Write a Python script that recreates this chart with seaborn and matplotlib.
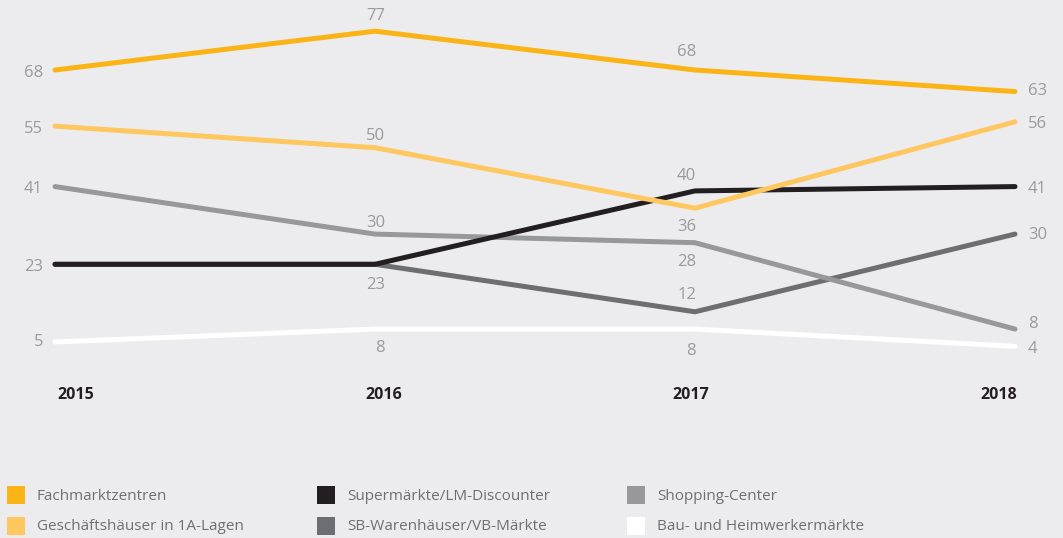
"""
Line chart: Einzelhandelsformate 2015-2018
"""

import matplotlib.pyplot as plt
import matplotlib.patches as mpatches
import seaborn as sns
import pandas as pd

# Data
years = [2015, 2016, 2017, 2018]
fachmarktzentren = [68, 77, 68, 63]
geschaeftshaeuser = [55, 50, 36, 56]
supermaerkte = [23, 23, 40, 41]
shopping_center = [41, 30, 28, 8]
sb_warenhaeuser = [23, 23, 12, 30]
baumaerkte = [5, 8, 8, 4]

series_names = ['Fachmarktzentren', 'Geschäftshäuser in 1A-Lagen', 'Supermärkte/LM-Discounter',
                'SB-Warenhäuser/VB-Märkte', 'Shopping-Center', 'Bau- und Heimwerkermärkte']
series_values = [fachmarktzentren, geschaeftshaeuser, supermaerkte,
                 sb_warenhaeuser, shopping_center, baumaerkte]

# Colors
bg = '#ececee'
palette = {
    'Fachmarktzentren': '#fbb415',
    'Geschäftshäuser in 1A-Lagen': '#fec760',
    'Supermärkte/LM-Discounter': '#231f20',
    'SB-Warenhäuser/VB-Märkte': '#6d6e71',
    'Shopping-Center': '#98989b',
    'Bau- und Heimwerkermärkte': '#ffffff',
}
label_color = '#9a9a9c'

# long-form table for seaborn
rows = []
for name, vals in zip(series_names, series_values):
    for y, v in zip(years, vals):
        rows.append({'Jahr': y, 'Wert': v, 'Format': name})
df = pd.DataFrame(rows)

sns.set_style("white", {'axes.facecolor': bg, 'figure.facecolor': bg})
plt.rcParams['font.family'] = ['Open Sans', 'DejaVu Sans']

fig = plt.figure(figsize=(10.63, 5.38), dpi=100)
ax = fig.add_axes([55 / 1063, 1 - 363.6 / 538, 960 / 1063, 345.4 / 538])

# drawing order: bottom to top
draw_order = ['Bau- und Heimwerkermärkte', 'SB-Warenhäuser/VB-Märkte', 'Shopping-Center',
              'Supermärkte/LM-Discounter', 'Geschäftshäuser in 1A-Lagen', 'Fachmarktzentren']
sns.lineplot(data=df, x='Jahr', y='Wert', hue='Format', hue_order=draw_order,
             palette=palette, linewidth=3.6, legend=False, ax=ax)
for line in ax.get_lines():
    line.set_solid_capstyle('round')
    line.set_solid_joinstyle('round')
    line.set_clip_on(False)

ax.set_xlim(2015, 2018)
ax.set_ylim(0, 80)
ax.axis('off')

# value labels: (series, year index, dx px, dy px, ha)
label_pos = [
    ('Fachmarktzentren', 0, -12, 0, 'right'),
    ('Geschäftshäuser in 1A-Lagen', 0, -12, 0, 'right'),
    ('Shopping-Center', 0, -12, 0, 'right'),
    ('SB-Warenhäuser/VB-Märkte', 0, -12, 0, 'right'),
    ('Bau- und Heimwerkermärkte', 0, -12, 3, 'right'),
    ('Fachmarktzentren', 1, 10, 18, 'right'),
    ('Geschäftshäuser in 1A-Lagen', 1, 10, 14, 'right'),
    ('Shopping-Center', 1, 10, 14, 'right'),
    ('SB-Warenhäuser/VB-Märkte', 1, 10, -18, 'right'),
    ('Bau- und Heimwerkermärkte', 1, 10, -16, 'right'),
    ('Fachmarktzentren', 2, 1, 21, 'right'),
    ('Supermärkte/LM-Discounter', 2, 1, 17, 'right'),
    ('Geschäftshäuser in 1A-Lagen', 2, 1, -16, 'right'),
    ('Shopping-Center', 2, 1, -17, 'right'),
    ('SB-Warenhäuser/VB-Märkte', 2, 1, 19, 'right'),
    ('Bau- und Heimwerkermärkte', 2, 1, -19, 'right'),
    ('Fachmarktzentren', 3, 13, 3, 'left'),
    ('Geschäftshäuser in 1A-Lagen', 3, 13, 0, 'left'),
    ('Supermärkte/LM-Discounter', 3, 13, 0, 'left'),
    ('SB-Warenhäuser/VB-Märkte', 3, 13, 2, 'left'),
    ('Shopping-Center', 3, 13, 8, 'left'),
    ('Bau- und Heimwerkermärkte', 3, 13, 0, 'left'),
]
for name, i, dx, dy, ha in label_pos:
    v = series_values[series_names.index(name)][i]
    ax.annotate(f'{v}', xy=(years[i], v), xytext=(dx, dy - 2.5), textcoords='offset pixels',
                ha=ha, va='center', fontsize=12, color=label_color, annotation_clip=False)

# year labels
year_x = [57, 384, 691, 1017]
year_ha = ['left', 'center', 'center', 'right']
for y, px, ha in zip(years, year_x, year_ha):
    fig.text(px / 1063, 1 - 395 / 538, str(y), ha=ha, va='center',
             fontsize=11.5, fontweight='bold', color='#231f20')

# legend
legend_layout = [
    ('Fachmarktzentren', 7, 486),
    ('Geschäftshäuser in 1A-Lagen', 7, 517),
    ('Supermärkte/LM-Discounter', 317, 486),
    ('SB-Warenhäuser/VB-Märkte', 317, 517),
    ('Shopping-Center', 627, 486),
    ('Bau- und Heimwerkermärkte', 627, 517),
]
for name, px, py in legend_layout:
    fig.patches.append(mpatches.Rectangle((px / 1063, 1 - (py + 18) / 538), 18 / 1063, 18 / 538,
                                          transform=fig.transFigure, facecolor=palette[name],
                                          edgecolor='none'))
    fig.text((px + 30) / 1063, 1 - (py + 10) / 538, name, ha='left', va='center',
             fontsize=11, color='#6f6f72')

plt.savefig('out.png', dpi=100, facecolor=bg)
plt.close()
